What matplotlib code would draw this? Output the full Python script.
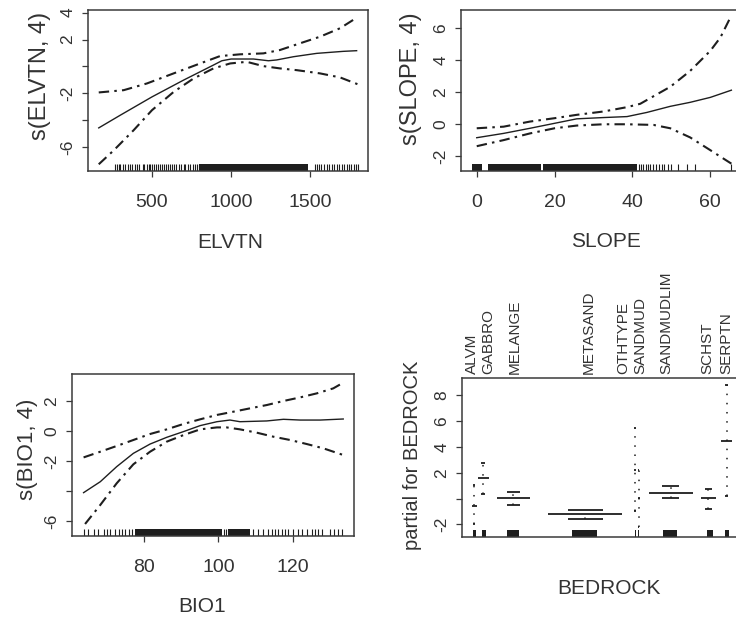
import matplotlib
matplotlib.use('Agg')
import matplotlib.pyplot as plt

# ---------------- data ----------------
# ELVTN panel
elv_x = [163, 300, 500, 700, 889, 942, 1001, 1142, 1237, 1289, 1395, 1542, 1710, 1795]
elv_fit = [-4.58, -3.63, -2.27, -1.02, 0.10, 0.42, 0.55, 0.55, 0.42, 0.48, 0.72, 0.97, 1.12, 1.17]
elv_hi_x = [163, 321, 468, 637, 805, 931, 1058, 1205, 1310, 1437, 1563, 1690, 1800]
elv_hi = [-1.94, -1.77, -1.27, -0.52, 0.22, 0.77, 0.90, 0.97, 1.22, 1.72, 2.21, 2.84, 3.66]
elv_lo_x = [163, 258, 384, 500, 637, 763, 889, 995, 1100, 1205, 1310, 1416, 1563, 1690, 1800]
elv_lo = [-7.29, -6.25, -4.75, -3.26, -1.90, -0.90, -0.15, 0.22, 0.34, 0.02, -0.15, -0.28, -0.52, -0.82, -1.32]
elv_rug = [266, 280, 292, 300, 318, 330, 345, 360, 372, 390, 405, 420, 440, 452, 466, 478,
           490, 500, 512, 525, 540, 552, 563, 575, 590, 602, 614, 628, 640, 655, 668, 684,
           700, 712, 726, 742, 758, 772, 786, 798,
           1532, 1545, 1558, 1572, 1590, 1605, 1620, 1638, 1652, 1668, 1684, 1700, 1716,
           1732, 1748, 1762, 1778, 1792, 1806]
elv_rug_bands = [(800, 1490)]
elv_xticks = [500, 1000, 1500]
elv_yticks = [-6, -4, -2, 0, 2, 4]
elv_ytick_labels = ['-6', '', '-2', '', '2', '4']

# SLOPE panel
slp_x = [0, 6.9, 13.7, 20, 25.7, 32.6, 38.6, 43.7, 49.7, 54.8, 60, 65.4]
slp_fit = [-0.84, -0.57, -0.25, 0.06, 0.34, 0.42, 0.48, 0.74, 1.12, 1.37, 1.68, 2.13]
slp_hi_x = [0, 6.9, 13.7, 20, 25.7, 32.6, 38.6, 42, 45.4, 49.7, 54.8, 60, 62.6, 65.4]
slp_hi = [-0.25, -0.15, 0.17, 0.38, 0.59, 0.80, 1.07, 1.28, 1.75, 2.34, 3.33, 4.59, 5.43, 6.80]
slp_lo_x = [0, 6.9, 13.7, 20, 25.7, 32.6, 38.6, 45.4, 49.7, 54.8, 60, 63.4, 65.4]
slp_lo = [-1.37, -0.99, -0.57, -0.25, -0.08, 0.0, 0.0, -0.04, -0.25, -0.82, -1.62, -2.15, -2.46]
slp_rug = [41.6, 42.2, 42.8, 43.4, 44.0, 44.6, 45.3, 46.0, 46.8, 47.5, 48.2, 49.0, 50.0,
           51.8, 54.0, 56.1, 65.4]
slp_rug_bands = [(-1.3, 1.3), (3.0, 16.4), (17.0, 41.2)]
slp_xticks = [0, 20, 40, 60]
slp_yticks = [-2, 0, 2, 4, 6]
slp_ytick_labels = ['-2', '0', '2', '4', '6']

# BIO1 panel
bio_x = [63.7, 68.2, 72.6, 77.1, 81.6, 86.1, 90.6, 95.1, 99.6, 103.1, 105.8, 113.0, 117.5, 122.0, 127.4, 133.6]
bio_fit = [-4.11, -3.38, -2.38, -1.49, -0.87, -0.42, -0.04, 0.36, 0.62, 0.73, 0.62, 0.67, 0.78, 0.73, 0.73, 0.80]
bio_hi_x = [63.7, 68.2, 72.6, 77.1, 81.6, 86.1, 90.6, 95.1, 99.6, 104.1, 108.5, 113.0, 117.5, 122.0, 126.5, 130.9, 133.6]
bio_hi = [-1.76, -1.38, -1.00, -0.60, -0.20, 0.11, 0.47, 0.78, 1.07, 1.29, 1.51, 1.73, 2.00, 2.24, 2.51, 2.84, 3.22]
bio_lo_x = [64.1, 68.2, 72.6, 77.1, 81.6, 86.1, 90.6, 95.1, 99.6, 102.2, 105.8, 110.3, 114.8, 119.3, 123.8, 128.3, 133.6]
bio_lo = [-6.20, -4.93, -3.49, -2.22, -1.38, -0.71, -0.27, 0.11, 0.24, 0.24, 0.11, -0.11, -0.38, -0.60, -0.87, -1.16, -1.60]
bio_rug = [63.7, 65.0, 66.4, 67.7, 69.1, 69.9, 70.9, 72.2, 73.1, 74.0, 74.9, 75.8, 76.7,
           101.5, 102.1, 109.4, 110.7, 112.1, 113.4, 114.3, 115.2, 116.1, 117.0, 117.9,
           118.8, 120.2, 121.5, 122.4, 123.8, 125.1, 126.0, 126.9, 127.8, 130.0, 131.0,
           132.3, 133.2]
bio_rug_bands = [(77.6, 100.9), (102.7, 108.5)]
bio_xticks = [80, 100, 120]
bio_yticks = [-6, -4, -2, 0, 2]
bio_ytick_labels = ['-6', '', '-2', '0', '2']

# BEDROCK panel (factor)
bed_levels = ['ALVM', 'GABBRO', 'MELANGE', 'METASAND', 'OTHTYPE', 'SANDMUD',
              'SANDMUDLIM', 'SCHST', 'SERPTN']
bed_label_x = [10.0, 27.0, 53.3, 126.6, 162.0, 179.0, 205.0, 246.0, 264.5]
bed_center = [12.5, 21.6, 51.6, 123.6, 173.3, 176.8, 208.8, 246.6, 265.0]
bed_width = [5, 11, 33, 74, 2, 2, 44, 15, 10.7]
bed_ci_width = [2, 4, 13, 35, 1.5, 1.5, 17, 6.7, 3]
bed_fit = [-0.60, 1.61, 0.06, -1.23, 2.20, 0.05, 0.45, 0.04, 4.48]
bed_hi = [1.05, 2.73, 0.53, -0.89, 5.45, 2.25, 0.97, 0.76, 8.80]
bed_lo = [-1.95, 0.35, -0.50, -1.61, -1.00, -2.20, 0.02, -0.84, 0.19]
bed_rug_bands = [(11.6, 14.3), (20.0, 24.3), (45.0, 57.3), (110.6, 135.6), (172.9, 173.9),
                 (176.3, 177.3), (201.0, 215.6), (245.0, 251.6), (263.3, 267.6)]
bed_yticks = [-2, 0, 2, 4, 6, 8]
bed_ytick_labels = ['-2', '', '2', '4', '6', '8']

# ---------------- style ----------------
INK = '#1e1e1e'
TXT = '#333333'
SPINE = '#3a3a3a'
NARROW = ['Liberation Sans Narrow', 'Liberation Sans', 'DejaVu Sans']
REG = ['Liberation Sans', 'DejaVu Sans']
CI_STYLE = (0, (5, 2.5, 1.2, 2.5))
YTICK_FS = 12.5

W, H = 736, 617
fig = plt.figure(figsize=(W / 100, H / 100), dpi=100)


def axes_px(l, t, r, b):
    return fig.add_axes([l / W, 1 - b / H, (r - l) / W, (b - t) / H])


def style_axes(ax, right_spine=True):
    for s in ax.spines.values():
        s.set_color(SPINE)
        s.set_linewidth(1.1)
    if not right_spine:
        ax.spines['right'].set_visible(False)
    ax.tick_params(axis='both', direction='out', length=4, width=0.9, color=SPINE,
                   labelcolor=TXT)
    ax.tick_params(axis='x', pad=12.5)
    ax.tick_params(axis='y', pad=5)
    ax.set_facecolor('white')


def rug(ax, ticks, bands, h=0.045):
    tr = ax.get_xaxis_transform()
    if ticks:
        ax.vlines(ticks, 0, h, transform=tr, color=INK, lw=0.8)
    for a, b in bands:
        ax.axvspan(a, b, ymin=0, ymax=h, color=INK, lw=0)


def smooth_panel(ax, x, fit, hx, hi, lx, lo, xlim, ylim, xticks, yticks, yticklabels,
                 xlabel, ylabel, ylab_x, ylab_y, ylab_fs, xlab_x, xlab_y, rug_ticks, rug_bands,
                 right_spine=True):
    ax.plot(x, fit, color=INK, lw=1.0)
    ax.plot(hx, hi, color=INK, lw=1.5, linestyle=CI_STYLE)
    ax.plot(lx, lo, color=INK, lw=1.5, linestyle=CI_STYLE)
    rug(ax, rug_ticks, rug_bands)
    ax.set_xlim(*xlim)
    ax.set_ylim(*ylim)
    style_axes(ax, right_spine)
    ax.set_xticks(xticks)
    ax.set_xticklabels([str(t) for t in xticks], family=NARROW, fontsize=14)
    ax.set_yticks(yticks)
    ax.set_yticklabels(yticklabels, rotation=90, va='center', family=REG, fontsize=YTICK_FS)
    ax.set_xlabel(xlabel, family=NARROW, fontsize=15, color=TXT, va='center')
    ax.xaxis.set_label_coords(xlab_x, xlab_y)
    ax.set_ylabel(ylabel, family=REG, fontsize=ylab_fs, color=TXT, va='center')
    ax.yaxis.set_label_coords(ylab_x, ylab_y)


# Panel 1: ELVTN  (box px: 88..368 x, 10..171 y)
ax1 = axes_px(88, 10, 368, 171)
smooth_panel(ax1, elv_x, elv_fit, elv_hi_x, elv_hi, elv_lo_x, elv_lo,
             (95, 1867), (-7.79, 4.2), elv_xticks, elv_yticks, elv_ytick_labels,
             'ELVTN', 's(ELVTN, 4)', (40 - 88) / 280, (171 - 76) / 161, 17,
             (230.5 - 88) / 280, -(243 - 171) / 161, elv_rug, elv_rug_bands)

# Panel 2: SLOPE (box px: 461..745, cropped at right)
ax2 = axes_px(461, 10, 745, 171)
smooth_panel(ax2, slp_x, slp_fit, slp_hi_x, slp_hi, slp_lo_x, slp_lo,
             (-4.04, 68.9), (-2.92, 7.14), slp_xticks, slp_yticks, slp_ytick_labels,
             'SLOPE', 's(SLOPE, 4)', (411 - 461) / 284, (171 - 79) / 161, 17,
             (605.7 - 461) / 284, -(241.7 - 171) / 161, slp_rug, slp_rug_bands,
             right_spine=False)

# Panel 3: BIO1
ax3 = axes_px(71.7, 374.3, 354, 536)
smooth_panel(ax3, bio_x, bio_fit, bio_hi_x, bio_hi, bio_lo_x, bio_lo,
             (60.5, 136.5), (-7.0, 3.78), bio_xticks, bio_yticks, bio_ytick_labels,
             'BIO1', 's(BIO1, 4)', (27 - 71.7) / 282.3, (536 - 449) / 161.7, 16,
             (202 - 71.7) / 282.3, -(606 - 536) / 161.7, bio_rug, bio_rug_bands)

# Panel 4: BEDROCK (factor term)
ax4 = axes_px(461.7, 378.3, 745, 537.3)
for c, w, cw, f, hi, lo in zip(bed_center, bed_width, bed_ci_width, bed_fit, bed_hi, bed_lo):
    ax4.plot([c - w / 2, c + w / 2], [f, f], color=INK, lw=1.3, solid_capstyle='butt')
    ax4.plot([c - cw / 2, c + cw / 2], [hi, hi], color=INK, lw=1.3, solid_capstyle='butt')
    ax4.plot([c - cw / 2, c + cw / 2], [lo, lo], color=INK, lw=1.3, solid_capstyle='butt')
    ax4.plot([c, c], [lo, hi], color=INK, lw=1.1, linestyle=(0, (1, 5)))
rug(ax4, [], bed_rug_bands, h=0.044)
ax4.set_xlim(0, 283.3)
ax4.set_ylim(-3.0, 9.32)
style_axes(ax4, right_spine=False)
ax4.set_yticks(bed_yticks)
ax4.set_yticklabels(bed_ytick_labels, rotation=90, va='center', family=REG, fontsize=YTICK_FS)
ax4.tick_params(axis='x', bottom=False, labelbottom=False, top=True, labeltop=True,
                length=0, pad=3)
ax4.set_xticks(bed_label_x)
ax4.set_xticklabels(bed_levels, rotation=90, ha='center', va='bottom', family=REG,
                    fontsize=11, color=TXT)
ax4.set_ylabel('partial for BEDROCK', family=REG, fontsize=14.5, color=TXT, va='center')
ax4.yaxis.set_label_coords((413 - 461.7) / 283.3, (537.3 - 455) / 159)
ax4.text((609 - 461.7) / 283.3, -(589 - 537.3) / 159, 'BEDROCK', transform=ax4.transAxes,
         ha='center', va='center', family=NARROW, fontsize=15, color=TXT)

fig.savefig('out.png', dpi=100, facecolor='white')
